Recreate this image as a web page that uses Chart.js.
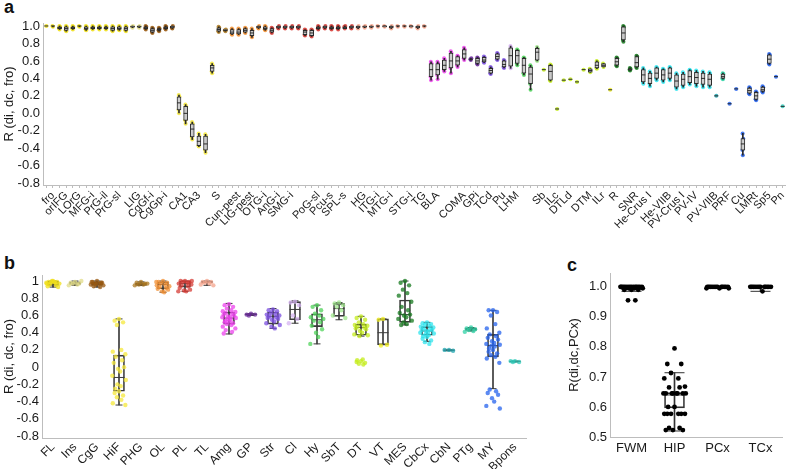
<!DOCTYPE html>
<html><head><meta charset="utf-8">
<script src="https://cdn.jsdelivr.net/npm/chart.js@4.4.1/dist/chart.umd.min.js"></script>
<style>
html,body{margin:0;padding:0;background:#fff;}
body{width:793px;height:469px;overflow:hidden;position:relative;font-family:"Liberation Sans",Arial,sans-serif;}
.pl{position:absolute;font-weight:bold;font-size:18px;color:#111;line-height:18px;}
canvas{position:absolute;}
</style></head>
<body>
<div class="pl" style="left:4px;top:-2px">a</div>
<div class="pl" style="left:4px;top:254px">b</div>
<div class="pl" style="left:567px;top:256px">c</div>
<canvas id="ca" width="793" height="258" style="left:0;top:0"></canvas>
<canvas id="cb" width="550" height="211" style="left:0;top:258px"></canvas>
<canvas id="cc" width="228" height="211" style="left:565px;top:258px"></canvas>
<script>
// ---------------- DATA ----------------
const groupColors = {FL:'#f0df1a', Ins:'#e2dc8a', CgG:'#9a5a12', HiF:'#f5e83a', PHG:'#ad7a22', OL:'#f29034', PL:'#d63c36', TL:'#f4a48c', Amg:'#ec42ec', GP:'#6a2a9a', Str:'#7b4fe0', Cl:'#d6b3f2', Hy:'#4fd35a', SbT:'#9fe58c', DT:'#c4ec1c', VT:'#f0ee1e', MES:'#177a1f', CbCx:'#2ee4ee', CbN:'#1fa5b0', PTg:'#2fd2a6', MY:'#2563ee', Bpons:'#2cc9b8'};

// panel a: labelled categories [index, name] among aCount categories
const aCount = 112;
const aLabelled = [[1,'fro'],[3,'orIFG'],[5,'LOrG'],[7,'MFG-i'],[9,'PrG-il'],[11,'PrG-sl'],[14,'LIG'],[16,'CgGf-i'],[18,'CgGp-i'],[21,'CA1'],[23,'CA3'],[26,'S'],[29,'Cun-pest'],[31,'LIG-pest'],[33,'OTG-i'],[35,'AnG-i'],[37,'SMG-i'],[41,'PoG-sl'],[43,'Pcu-s'],[45,'SPL-s'],[48,'HG'],[50,'ITG-i'],[52,'MTG-i'],[55,'STG-i'],[57,'TG'],[59,'BLA'],[63,'COMA'],[65,'GPi'],[67,'TCd'],[69,'Pu'],[71,'LHM'],[75,'Sb'],[77,'ILc'],[79,'DTLd'],[82,'DTM'],[84,'ILr'],[86,'R'],[89,'SNR'],[91,'He-Crus I'],[94,'He-VIIB'],[96,'PV-Crus I'],[98,'PV-IV'],[101,'PV-VIIB'],[103,'PRF'],[105,'Cu'],[107,'LMRt'],[109,'Sp5'],[111,'Pn']];
// group of consecutive categories (name, count)
const aGroupRuns = [['FL',13],['Ins',2],['CgG',5],['HiF',6],['PHG',2],['OL',6],['PL',13],['TL',11],['Amg',6],['GP',2],['Str',4],['Cl',1],['Hy',3],['SbT',1],['DT',10],['VT',1],['MES',4],['CbCx',11],['CbN',1],['PTg',1],['MY',8],['Bpons',1]];
// [min, q1, median, q3, max]
const aStats = [
[1,1,1,1,1],[0.99,1,1,1,1],[0.96,0.97,0.98,0.99,1],[0.94,0.95,0.97,0.99,1],[0.96,0.97,0.98,0.99,1],
[0.99,1,1,1,1],[0.95,0.96,0.97,0.99,1],[0.96,0.97,0.98,0.99,1],[0.96,0.97,0.98,0.99,1],[0.96,0.97,0.98,0.99,1],
[0.94,0.95,0.97,0.99,1],[0.95,0.96,0.97,0.99,1],[0.94,0.95,0.97,0.99,1],[0.98,0.99,0.99,1,1],[0.98,0.99,0.99,1,1],
[0.96,0.97,0.98,0.99,1],[0.92,0.93,0.95,0.97,0.98],[0.94,0.95,0.96,0.97,0.98],[0.96,0.97,0.98,0.99,1],[0.97,0.98,0.99,1,1],
[0.0,0.04,0.12,0.19,0.21],[-0.12,-0.08,0.0,0.08,0.1],[-0.3,-0.27,-0.18,-0.12,-0.1],[-0.38,-0.37,-0.32,-0.26,-0.23],[-0.45,-0.42,-0.35,-0.26,-0.24],
[0.46,0.48,0.52,0.55,0.57],[0.93,0.94,0.96,0.98,0.99],[0.94,0.95,0.95,0.96,0.96],[0.9,0.91,0.93,0.96,0.97],[0.9,0.91,0.93,0.96,0.97],
[0.92,0.93,0.95,0.97,0.98],[0.87,0.89,0.92,0.95,0.97],[0.97,0.98,0.99,1,1],[0.95,0.96,0.97,0.99,1],[0.92,0.93,0.95,0.97,0.98],
[0.97,0.98,0.99,1,1],[0.97,0.98,0.99,1,1],[0.97,0.98,0.99,1,1],[0.97,0.98,0.99,1,1],[0.89,0.9,0.93,0.95,0.96],
[0.88,0.89,0.92,0.95,0.96],[0.96,0.97,0.98,0.99,1],[0.97,0.98,0.99,1,1],[0.96,0.97,0.98,0.99,1],[0.96,0.97,0.98,0.99,1],
[0.97,0.97,0.98,0.99,1],[0.97,0.98,0.99,1,1],[0.97,0.98,0.99,1,1],[0.98,0.99,0.99,1,1],[0.98,0.99,0.99,1,1],
[0.99,1,1,1,1],[0.99,0.99,1,1,1],[0.97,0.98,0.99,1,1],[0.99,1,1,1,1],[0.99,1,1,1,1],
[0.99,0.99,1,1,1],[0.97,0.98,0.99,1,1],[0.99,1,1,1,1],
[0.38,0.42,0.50,0.57,0.59],[0.39,0.44,0.50,0.57,0.59],[0.48,0.50,0.55,0.61,0.63],[0.46,0.52,0.60,0.69,0.71],[0.53,0.55,0.60,0.65,0.66],
[0.61,0.63,0.68,0.73,0.75],[0.61,0.62,0.62,0.62,0.63],[0.56,0.57,0.60,0.63,0.64],[0.58,0.59,0.61,0.64,0.65],[0.45,0.46,0.49,0.515,0.53],
[0.61,0.62,0.65,0.68,0.69],[0.52,0.53,0.56,0.60,0.61],[0.515,0.54,0.66,0.75,0.77],[0.55,0.57,0.66,0.72,0.73],[0.44,0.46,0.55,0.63,0.64],
[0.27,0.34,0.45,0.53,0.55],[0.60,0.61,0.70,0.745,0.76],[0.50,0.50,0.50,0.50,0.50],[0.37,0.38,0.48,0.55,0.56],[0.05,0.05,0.05,0.05,0.05],
[0.38,0.38,0.38,0.38,0.38],[0.39,0.39,0.39,0.39,0.39],[0.36,0.36,0.36,0.36,0.36],[0.50,0.50,0.50,0.50,0.50],[0.47,0.47,0.49,0.51,0.51],
[0.51,0.52,0.55,0.59,0.60],[0.53,0.53,0.55,0.57,0.57],[0.27,0.27,0.27,0.27,0.27],[0.54,0.55,0.59,0.63,0.64],[0.82,0.84,0.92,0.99,1.0],
[0.49,0.50,0.50,0.51,0.52],[0.52,0.53,0.58,0.65,0.66],[0.34,0.36,0.44,0.50,0.52],[0.31,0.34,0.40,0.46,0.48],[0.38,0.40,0.46,0.52,0.53],
[0.36,0.38,0.44,0.50,0.51],[0.38,0.40,0.46,0.52,0.53],[0.28,0.30,0.37,0.44,0.46],[0.30,0.32,0.39,0.45,0.47],[0.33,0.35,0.42,0.49,0.50],
[0.31,0.34,0.41,0.47,0.49],[0.30,0.33,0.40,0.46,0.48],[0.30,0.32,0.39,0.45,0.47],[0.20,0.20,0.20,0.20,0.20],[0.39,0.40,0.42,0.45,0.46],
[0.11,0.11,0.11,0.11,0.11],[0.28,0.28,0.28,0.28,0.28],[-0.48,-0.42,-0.35,-0.29,-0.23],[0.22,0.23,0.26,0.29,0.30],[0.15,0.16,0.20,0.24,0.25],
[0.24,0.25,0.27,0.30,0.31],[0.56,0.57,0.62,0.67,0.68],[0.42,0.42,0.42,0.42,0.42],[0.08,0.08,0.08,0.08,0.08]
];
const aYTicks = [-0.8,-0.6,-0.4,-0.2,0,0.2,0.4,0.6,0.8,1.0];

// panel b
const bCategories = ['FL','Ins','CgG','HiF','PHG','OL','PL','TL','Amg','GP','Str','Cl','Hy','SbT','DT','VT','MES','CbCx','CbN','PTg','MY','Bpons'];
const bStats = [
[0.93,0.95,0.98,1.0,1.0],[0.95,0.96,0.97,0.99,1.0],[0.93,0.95,0.97,0.99,1.0],[-0.44,-0.28,-0.12,0.14,0.56],
[0.95,0.95,0.965,0.98,0.99],[0.87,0.91,0.96,0.99,1.0],[0.88,0.93,0.97,1.0,1.0],[0.95,0.98,0.99,1.0,1.0],
[0.385,0.50,0.57,0.64,0.74],[0.60,0.61,0.615,0.62,0.62],[0.45,0.50,0.59,0.64,0.68],[0.51,0.55,0.67,0.76,0.77],
[0.27,0.47,0.55,0.62,0.72],[0.55,0.59,0.68,0.74,0.75],[0.36,0.37,0.46,0.50,0.59],[0.26,0.26,0.40,0.56,0.56],
[0.49,0.52,0.61,0.78,1.0],[0.30,0.37,0.42,0.47,0.52],[0.19,0.195,0.197,0.2,0.2],[0.42,0.425,0.44,0.455,0.46],
[-0.25,0.12,0.25,0.38,0.66],[0.06,0.065,0.067,0.07,0.07]
];
const bPoints = [
[1.0,0.99,0.99,0.98,0.98,0.97,0.97,0.96,0.95,0.94,0.93,1.0,0.99,0.98],
[0.99,0.98,0.97,0.97,0.96,0.95,1.0],
[1.0,0.99,0.98,0.97,0.97,0.96,0.95,0.94,0.93,0.99,0.98,0.96],
[0.56,0.54,0.52,0.49,0.2,0.18,0.15,0.12,0.08,0.05,0.0,-0.02,-0.05,-0.1,-0.15,-0.2,-0.22,-0.25,-0.28,-0.3,-0.33,-0.35,-0.38,-0.42,-0.44],
[0.99,0.98,0.97,0.96,0.96,0.95,0.97],
[1.0,0.99,0.98,0.97,0.96,0.95,0.94,0.93,0.92,0.91,0.9,0.88,0.87,0.99],
[1.0,1.0,0.99,0.99,0.98,0.97,0.96,0.95,0.94,0.92,0.9,0.89,0.88,0.88,1.0],
[1.0,0.99,0.99,0.98,0.97,0.96,0.95],
[0.73,0.72,0.7,0.68,0.66,0.65,0.64,0.63,0.62,0.61,0.6,0.59,0.58,0.58,0.57,0.56,0.55,0.54,0.53,0.52,0.51,0.5,0.49,0.47,0.45,0.43,0.41,0.39],
[0.62,0.61,0.61,0.6],
[0.67,0.66,0.65,0.63,0.62,0.61,0.6,0.59,0.58,0.57,0.56,0.55,0.53,0.51,0.49,0.47,0.45],
[0.76,0.75,0.72,0.6,0.56,0.51],
[0.72,0.7,0.66,0.62,0.6,0.58,0.56,0.54,0.52,0.48,0.44,0.4,0.35,0.27],
[0.75,0.74,0.72,0.7,0.66,0.6,0.57],
[0.59,0.57,0.55,0.52,0.5,0.49,0.48,0.47,0.46,0.45,0.44,0.42,0.4,0.38,0.37,0.36,0.09,0.08,0.07,0.06,0.05,0.04,0.03],
[0.56,0.55,0.26,0.25],
[1.0,0.98,0.95,0.9,0.86,0.83,0.76,0.7,0.66,0.63,0.61,0.6,0.58,0.56,0.54,0.52,0.5,0.49],
[0.52,0.51,0.5,0.49,0.48,0.47,0.46,0.45,0.44,0.43,0.43,0.42,0.41,0.4,0.39,0.38,0.37,0.36,0.35,0.33,0.31,0.29,0.27],
[0.2,0.2,0.19],
[0.46,0.45,0.44,0.43,0.42,0.41],
[0.66,0.66,0.64,0.6,0.5,0.45,0.4,0.38,0.36,0.34,0.32,0.3,0.28,0.27,0.26,0.25,0.24,0.22,0.2,0.18,0.16,0.14,0.12,0.1,0.05,-0.26,-0.28,-0.3,-0.32,-0.36,-0.4,-0.45,-0.48],
[0.07,0.07,0.06,0.06]
];
const bYTicks = [-0.8,-0.6,-0.4,-0.2,0,0.2,0.4,0.6,0.8,1];

// panel c
const cCategories = ['FWM','HIP','PCx','TCx'];
const cStats = [[0.985,0.99,1.0,1.0,1.0],[0.52,0.597,0.64,0.648,0.714],[0.995,1.0,1.0,1.0,1.0],[0.985,1.0,1.0,1.0,1.0]];
const cPoints = [
[1,1,1,1,1,1,1,1,1,1,1,1,1,1,0.995,0.995,0.995,0.995,0.99,0.99,0.99,0.955,0.955],
[0.795,0.743,0.743,0.713,0.695,0.695,0.668,0.665,0.665,0.645,0.645,0.645,0.645,0.645,0.645,0.645,0.645,0.6,0.6,0.577,0.577,0.577,0.577,0.577,0.577,0.53,0.53,0.523,0.523,0.523],
[1,1,1,1,1,1,1,1,1,1,1,1,0.995,0.995,0.995],
[1,1,1,1,1,1,1,1,1,1,1,1,0.985]
];
const cYTicks = [0.5,0.6,0.7,0.8,0.9,1.0];

// ---------------- STYLE / BUILD ----------------
const JIT = [0,-0.62,0.58,-0.3,0.33,-0.88,0.9,-0.47,0.44,-0.75,0.72,-0.14,0.17,-0.95,0.97,-0.22,0.25,-0.55];
const FONT = '"Liberation Sans", Arial, sans-serif';
const AXC = '#bdbdbd', TXT = '#1a1a1a';

function alpha(hex, a){const n=parseInt(hex.slice(1),16);return `rgba(${n>>16},${(n>>8)&255},${n&255},${a})`;}

function boxSets(stats, pts, colorOf, o){
  const whisk=[], box=[], med=[], caps=[], dots=[];
  stats.forEach((s,i)=>{
    const [mn,q1,md,q3,mx]=s;
    if(mx>mn) whisk.push({x:i,y:[mn,mx]});
    if(q3>q1) box.push({x:i,y:[q1,q3]});
    med.push({x:i,y:md});
    if(o.cap && mx>mn){caps.push({x:i,y:mn});caps.push({x:i,y:mx});}
  });
  pts.forEach((list,i)=>list.forEach((v,k)=>dots.push({x:i+JIT[k%JIT.length]*o.spread,y:v,c:colorOf(i)})));
  const sets = [
    {type:'bar',data:whisk,barThickness:1,backgroundColor:o.line,borderWidth:0,grouped:false,order:5},
    {type:'bar',data:box,barThickness:o.boxW,backgroundColor:o.fill,borderColor:o.line,borderWidth:1,borderSkipped:false,grouped:false,order:4},
    {type:'scatter',data:dots,pointRadius:o.r,pointBorderWidth:0,pointBackgroundColor:ctx=>ctx.raw?ctx.raw.c:'#000',order:o.dotsOnTop?1:6},
    {type:'scatter',data:med,pointStyle:'line',pointRadius:o.boxW/2,pointBorderColor:o.line,pointBorderWidth:1,order:2}
  ];
  if(o.cap) sets.push({type:'scatter',data:caps,pointStyle:'line',pointRadius:o.capR,pointBorderColor:o.line,pointBorderWidth:1,order:3});
  return sets;
}

function baseOptions(o){
  return {
    responsive:false, animation:false, events:[],
    layout:{padding:o.pad},
    plugins:{legend:{display:false},tooltip:{enabled:false}},
    scales:{
      x:{type:'linear',offset:false,min:-0.5,max:o.n-0.5,
         afterBuildTicks:ax=>{ax.ticks=o.cats.map((_,i)=>({value:i}));},
         afterFit:ax=>{ax.height=o.xH;},
         grid:{drawOnChartArea:false,drawTicks:o.xTicks,tickLength:3,color:AXC,offset:false},
         border:{color:AXC},
         ticks:{autoSkip:false,maxRotation:o.rot,minRotation:o.rot,padding:o.xPad,color:TXT,font:{family:FONT,size:o.xFont},
                callback:(v,i)=>o.cats[i]}},
      y:{type:'linear',min:o.ymin,max:o.ymax,
         afterBuildTicks:ax=>{ax.ticks=o.yTicks.map(v=>({value:v}));},
         afterFit:ax=>{ax.width=o.yW;},
         grid:{drawOnChartArea:false,drawTicks:false,color:AXC},
         border:{color:AXC},
         ticks:{autoSkip:false,padding:3,color:TXT,font:{family:FONT,size:13},callback:o.yFmt},
         title:{display:true,text:o.title,color:TXT,font:{family:FONT,size:13},padding:{top:2,bottom:0}}}
    }
  };
}

// panel a
const aCategories = Array(aCount).fill('');
aLabelled.forEach(([i,n])=>{aCategories[i]=n;});
const aGroup = [];
aGroupRuns.forEach(([g,c])=>{for(let k=0;k<c;k++) aGroup.push(g);});
const aPoints = aStats.map(s=>[...new Set([s[0],s[1],s[3],s[4]])]);
new Chart(document.getElementById('ca'),{
  type:'bar',
  data:{datasets:boxSets(aStats,aPoints,i=>alpha(groupColors[aGroup[i]],0.85),{boxW:4,line:'#2b2b2b',fill:'rgba(255,255,255,0.75)',r:2,spread:0.12,cap:false,dotsOnTop:false})},
  options:baseOptions({n:aCount,cats:aCategories,pad:{top:23,right:3,left:0,bottom:0},xH:73,yW:43,xTicks:true,rot:45,xPad:1,xFont:11,
    ymin:-0.82,ymax:1.034,yTicks:aYTicks,yFmt:v=>(Math.round(v*10)/10).toFixed(1),title:'R (di, dc, fro)'})
});

// panel b
new Chart(document.getElementById('cb'),{
  type:'bar',
  data:{datasets:boxSets(bStats,bPoints,i=>alpha(groupColors[bCategories[i]],0.75),{boxW:11,line:'#3a3a3a',fill:'rgba(255,255,255,0)',r:2.2,spread:0.32,cap:true,capR:3.5,dotsOnTop:true})},
  options:baseOptions({n:bCategories.length,cats:bCategories,pad:{top:17,right:24,left:0,bottom:0},xH:31,yW:42,xTicks:false,rot:45,xPad:2,xFont:12,
    ymin:-0.823,ymax:1.07,yTicks:bYTicks,yFmt:v=>String(Math.round(v*10)/10),title:'R (di, dc, fro)'})
});

// panel c
new Chart(document.getElementById('cc'),{
  type:'bar',
  data:{datasets:boxSets(cStats,cPoints,()=>'#000',{boxW:20,line:'#333',fill:'rgba(255,255,255,0)',r:2.4,spread:0.27,cap:true,capR:10,dotsOnTop:true})},
  options:baseOptions({n:cCategories.length,cats:cCategories,pad:{top:15,right:3,left:0,bottom:0},xH:32,yW:45,xTicks:false,rot:0,xPad:4,xFont:13,
    ymin:0.5,ymax:1.046,yTicks:cYTicks,yFmt:v=>(Math.round(v*10)/10).toFixed(1),title:'R(di,dc,PCx)'})
});
</script>
</body></html>
